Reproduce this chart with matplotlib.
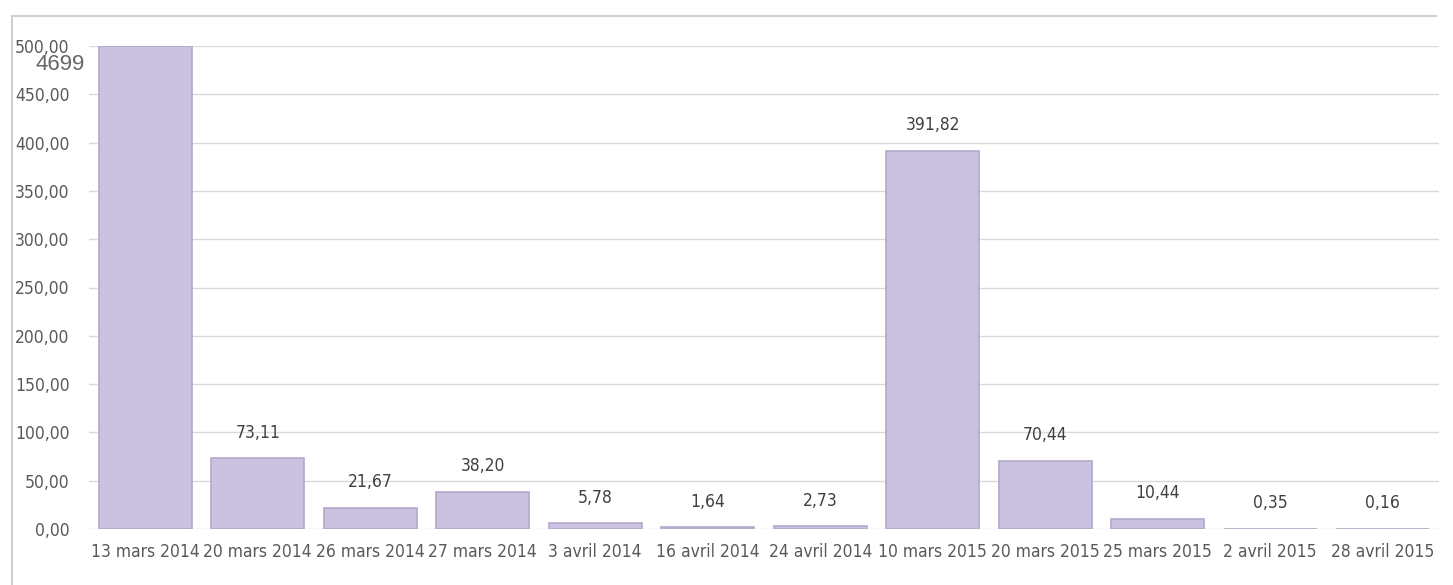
import matplotlib
matplotlib.use('Agg')
import matplotlib.pyplot as plt
import matplotlib.ticker as mtick
from matplotlib.lines import Line2D

# ── Data ────────────────────────────────────────────────────────────────────
dates = ['13 mars 2014', '20 mars 2014', '26 mars 2014', '27 mars 2014',
         '3 avril 2014', '16 avril 2014', '24 avril 2014', '10 mars 2015',
         '20 mars 2015', '25 mars 2015', '2 avril 2015', '28 avril 2015']
values = [4699, 73.11, 21.67, 38.20, 5.78, 1.64, 2.73, 391.82,
          70.44, 10.44, 0.35, 0.16]

Y_MAX = 500
BAR    = '#cbc1e0'
EDGE   = '#b3a8ca'
GRID   = '#dadada'
TICK   = '#595959'
LABEL  = '#404040'

def fr(v, nd=2):
    return f'{v:.{nd}f}'.replace('.', ',')

def narrow(t, size):
    t.set_family('DejaVu Sans')
    t.set_stretch('condensed')
    t.set_fontsize(size)

fig = plt.figure(figsize=(14.53, 5.85), dpi=100)
fig.patch.set_facecolor('white')

# outer chart frame (top and left edges)
W, H = 1453, 585
fig.add_artist(Line2D([12 / W, 1436 / W], [1 - 16 / H] * 2, transform=fig.transFigure,
                      color='#d0d0d0', linewidth=1.5))
fig.add_artist(Line2D([12 / W] * 2, [0, 1 - 16 / H], transform=fig.transFigure,
                      color='#d0d0d0', linewidth=1.5))

ax = fig.add_axes([89 / W, 56 / H, 1350 / W, 483 / H])
x = range(len(dates))
clipped = [min(v, Y_MAX) for v in values]
ax.bar(x, clipped, width=0.83, color=BAR, edgecolor=EDGE, linewidth=1.2, zorder=2)

ax.set_xlim(-0.5, len(dates) - 0.5)
ax.set_ylim(0, Y_MAX)
ax.yaxis.set_major_locator(mtick.MultipleLocator(50))
ax.yaxis.set_major_formatter(mtick.FuncFormatter(lambda v, _: fr(v)))
ax.grid(axis='y', color=GRID, linewidth=1, zorder=0)
ax.set_axisbelow(True)
for s in ax.spines.values():
    s.set_visible(False)
ax.tick_params(length=0, colors=TICK, pad=10)
ax.tick_params(axis='y', pad=14)
ax.set_xticks(list(x))
ax.set_xticklabels(dates)
for t in ax.get_xticklabels() + ax.get_yticklabels():
    narrow(t, 12.5)

for i, v in enumerate(values):
    if v > Y_MAX:
        # value above the axis range: shown beside the top tick
        ax.text(36 / W, 1 - 65 / H, str(int(v)), transform=fig.transFigure,
                ha='left', va='center', fontsize=16, color='#666666',
                family='Liberation Sans')
    else:
        t = ax.annotate(fr(v), (i, v), xytext=(0, 15), textcoords='offset points',
                        ha='center', va='baseline', color=LABEL)
        narrow(t, 12.5)

plt.savefig('out.png', dpi=100, facecolor='white')
